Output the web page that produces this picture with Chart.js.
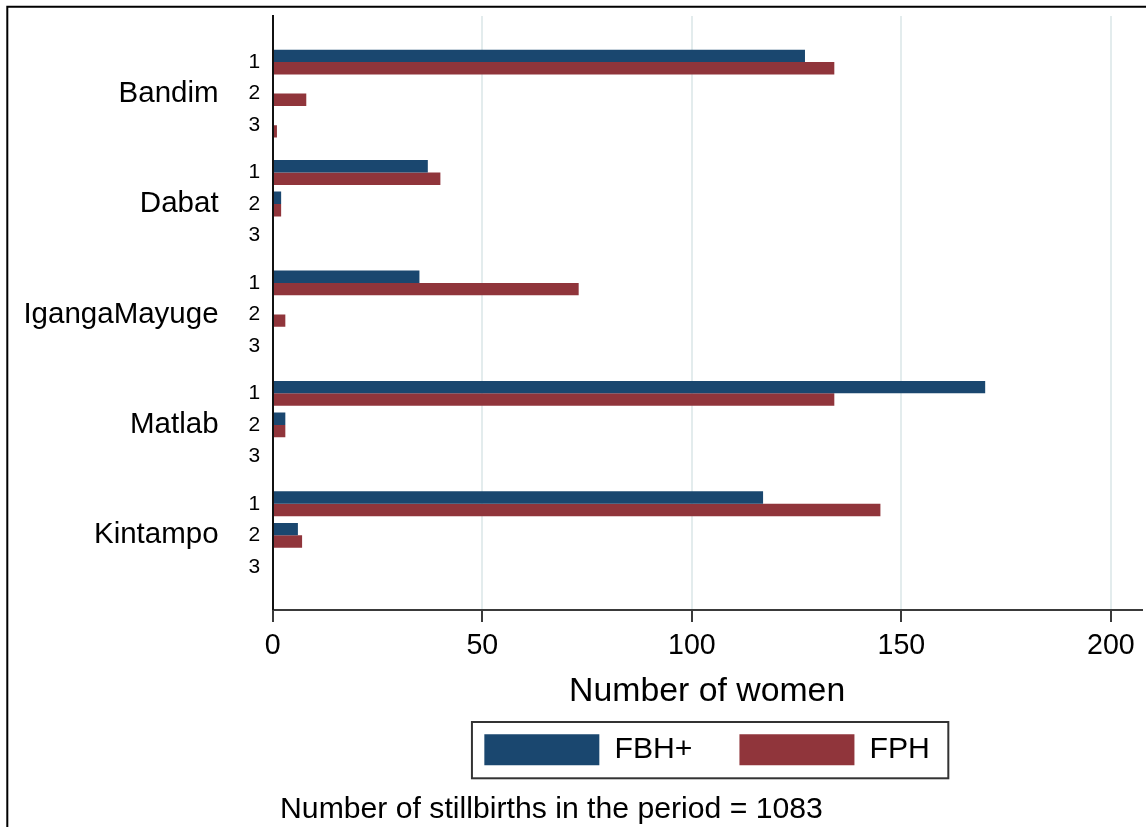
<!DOCTYPE html>
<html>
<head>
<meta charset="utf-8">
<title>Number of women by site</title>
<script src="https://cdn.jsdelivr.net/npm/chart.js@4.4.1/dist/chart.umd.min.js"></script>
<style>
  html, body { margin: 0; padding: 0; background: #ffffff; }
  #wrap { width: 1146px; height: 827px; }
</style>
</head>
<body>
<div id="wrap"><canvas id="chart" width="1146" height="827"></canvas></div>
<script>
// Sites and the three row categories within each site
const sites = ['Bandim', 'Dabat', 'IgangaMayuge', 'Matlab', 'Kintampo'];
const rowLabels = ['1', '2', '3'];
const seriesNames = ['FBH+', 'FPH'];

// Number of women, site by site, rows 1..3
const fbhPlus = [127, 0, 0,   37, 2, 0,   35, 0, 0,   170, 3, 0,   117, 6, 0];
const fph     = [134, 8, 1,   40, 2, 0,   73, 3, 0,   134, 3, 0,   145, 7, 0];

const xTicks = [0, 50, 100, 150, 200];
const xTitle = 'Number of women';
const note = 'Number of stillbirths in the period = 1083';

const FONT = "'Liberation Sans', Arial, Helvetica, sans-serif";
const NAVY = '#1a476f';
const MAROON = '#90353b';

// Rows sit one unit apart; half a unit of extra space separates sites
const groupStep = rowLabels.length + 0.5;
const rowPos = [];
sites.forEach((s, g) => rowLabels.forEach((r, i) => rowPos.push(g * groupStep + i)));
const sitePos = sites.map((s, g) => g * groupStep + (rowLabels.length - 1) / 2);
const yMin = -1.46;
const yMax = rowPos[rowPos.length - 1] + 1.365;

Chart.defaults.font.family = FONT;
Chart.defaults.color = '#000000';

// Outer frame of the figure (left and top edges)
const outerFrame = {
  id: 'outerFrame',
  beforeDraw(chart) {
    const ctx = chart.ctx;
    ctx.save();
    ctx.strokeStyle = '#000000';
    ctx.lineWidth = 2;
    ctx.beginPath();
    ctx.moveTo(7.3, chart.height + 5);
    ctx.lineTo(7.3, 6.7);
    ctx.lineTo(chart.width + 5, 6.7);
    ctx.stroke();
    ctx.restore();
  }
};

// Box around the legend and the footnote underneath
const legendBoxAndNote = {
  id: 'legendBoxAndNote',
  afterDraw(chart) {
    const ctx = chart.ctx;
    const hb = chart.legend.legendHitBoxes;
    ctx.save();
    if (hb && hb.length) {
      const first = hb[0];
      const last = hb[hb.length - 1];
      const left = first.left - 12.4;
      const right = last.left + last.width + 18.4;
      const top = first.top - 12.3;
      const bottom = first.top + first.height + 13;
      ctx.strokeStyle = '#333333';
      ctx.lineWidth = 2;
      ctx.strokeRect(left, top, right - left, bottom - top);
    }
    ctx.fillStyle = '#000000';
    ctx.font = '30.2px ' + FONT;
    ctx.textAlign = 'left';
    ctx.textBaseline = 'alphabetic';
    ctx.fillText(note, chart.chartArea.left + 7.3, 818);
    ctx.restore();
  }
};

// Vertical axes: the label band must not push the plot area down
const noEdgePadding = scale => { scale.paddingTop = 0; scale.paddingBottom = 0; };

const toPoints = values => values.map((v, i) => ({ x: v, y: rowPos[i] }));

new Chart(document.getElementById('chart'), {
  type: 'bar',
  data: {
    datasets: [
      {
        label: seriesNames[0],
        data: toPoints(fbhPlus),
        backgroundColor: NAVY,
        borderWidth: 0,
        categoryPercentage: 0.787,
        barPercentage: 1
      },
      {
        label: seriesNames[1],
        data: toPoints(fph),
        backgroundColor: MAROON,
        borderWidth: 0,
        categoryPercentage: 0.787,
        barPercentage: 1
      }
    ]
  },
  options: {
    indexAxis: 'y',
    responsive: false,
    devicePixelRatio: 1,
    animation: false,
    layout: { padding: { left: 6.3, right: 4.5, top: 16, bottom: 51.7 } },
    scales: {
      x: {
        type: 'linear',
        position: 'bottom',
        bounds: 'data',
        min: 0,
        max: 207.3,
        afterBuildTicks: scale => { scale.ticks = xTicks.map(v => ({ value: v })); },
        grid: {
          color: '#e3eced',
          lineWidth: 2,
          drawTicks: true,
          tickLength: 12,
          tickColor: '#3a3a3a',
          tickWidth: 2
        },
        border: { color: '#3a3a3a', width: 2 },
        ticks: { font: { size: 28.6 }, padding: 7, color: '#000000', maxRotation: 0, autoSkip: false },
        title: {
          display: true,
          text: xTitle,
          color: '#000000',
          font: { size: 33.8 },
          padding: { top: 1.5, bottom: -25 }
        }
      },
      y: {
        type: 'linear',
        position: 'left',
        reverse: true,
        offset: false,
        bounds: 'data',
        min: yMin,
        max: yMax,
        afterBuildTicks: scale => { scale.ticks = rowPos.map(v => ({ value: v })); },
        afterFit: noEdgePadding,
        grid: { display: false, drawTicks: false, offset: false },
        border: { display: true, color: '#111111', width: 2, z: 1 },
        ticks: {
          autoSkip: false,
          font: { size: 21 },
          padding: 12.7,
          color: '#000000',
          callback: (v, i) => rowLabels[i % rowLabels.length]
        }
      },
      site: {
        type: 'linear',
        position: 'left',
        reverse: true,
        offset: false,
        bounds: 'data',
        weight: 1,
        min: yMin,
        max: yMax,
        afterBuildTicks: scale => { scale.ticks = sitePos.map(v => ({ value: v })); },
        afterFit: noEdgePadding,
        grid: { display: false, drawTicks: false, offset: false },
        border: { display: false },
        ticks: {
          autoSkip: false,
          font: { size: 29.5 },
          padding: 17.1,
          color: '#000000',
          callback: (v, i) => sites[i]
        }
      }
    },
    plugins: {
      legend: {
        position: 'bottom',
        fullSize: false,
        labels: {
          boxWidth: 115,
          boxHeight: 31,
          padding: 47,
          color: '#000000',
          font: { size: 30.2 }
        }
      },
      tooltip: { enabled: false }
    }
  },
  plugins: [outerFrame, legendBoxAndNote]
});
</script>
</body>
</html>
